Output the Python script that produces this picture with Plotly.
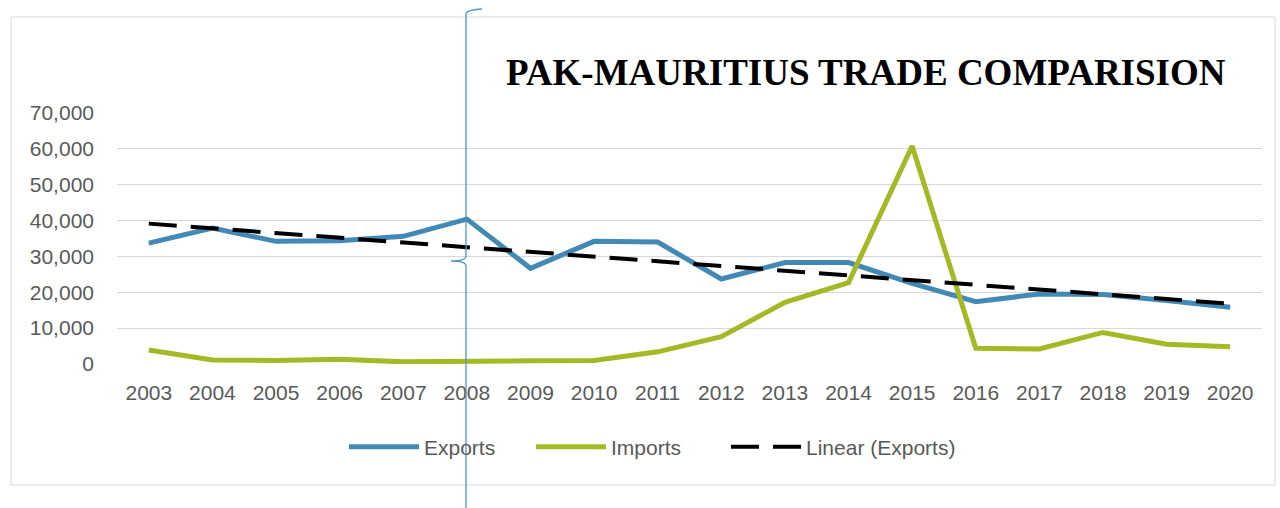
import numpy as np
import plotly.graph_objects as go

years = [str(y) for y in range(2003, 2021)]
exports = [33700, 37900, 34200, 34400, 35600, 40400, 26700, 34200, 34000,
           23700, 28300, 28300, 22500, 17400, 19500, 19400, 17700, 15800]
imports = [3900, 1100, 1000, 1300, 600, 600, 900, 1000, 3400,
           7600, 17200, 22700, 60800, 4400, 4200, 8800, 5500, 4800]
y_ticks = [0, 10000, 20000, 30000, 40000, 50000, 60000, 70000]

# Excel-style linear trendline of exports
xi = np.arange(len(exports))
slope, intercept = np.polyfit(xi, exports, 1)
trend = slope * xi + intercept

W, H = 1280, 508
L, R, T, B = 117, 1262, 113, 364


def px(x):
    return (x - L) / (R - L)


def py(y):
    return (B - y) / (B - T)


fig = go.Figure()
fig.add_trace(go.Scatter(x=years, y=exports, name="Exports", mode="lines",
                         line=dict(color="#4389b5", width=5), legend="legend"))
fig.add_trace(go.Scatter(x=years, y=imports, name="Imports", mode="lines",
                         line=dict(color="#a5b825", width=5), legend="legend2"))
fig.add_trace(go.Scatter(x=years, y=trend, name="Linear (Exports)", mode="lines",
                         line=dict(color="#000000", width=4, dash="28px,14px"),
                         legend="legend3"))

# outer chart border
fig.add_shape(type="rect", xref="paper", yref="paper",
              x0=px(11), x1=px(1275), y0=py(485), y1=py(17),
              line=dict(color="#d9d9d9", width=1), layer="below")

# stray vertical bracket line (document artifact)
path = (f"M {px(482)},{py(9)} Q {px(466)},{py(10)} {px(466)},{py(14)} "
        f"L {px(466)},{py(256)} Q {px(466)},{py(261)} {px(451)},{py(261)} "
        f"Q {px(466)},{py(261)} {px(466)},{py(266)} L {px(466)},{py(508)}")
fig.add_shape(type="path", xref="paper", yref="paper", path=path,
              line=dict(color="#4f97c4", width=1.3))

fig.add_annotation(text="<b>PAK-MAURITIUS TRADE COMPARISION</b>",
                   xref="paper", yref="paper", x=px(866), y=py(73),
                   xanchor="center", yanchor="middle", showarrow=False,
                   font=dict(family="Liberation Serif", size=37, color="#000000"))


def leg(xpix):
    return dict(orientation="h", xref="container", yref="container",
                x=xpix / W, xanchor="left", y=(H - 447) / H, yanchor="middle",
                font=dict(size=21, color="#595959"), itemwidth=70,
                bgcolor="rgba(0,0,0,0)")


fig.update_layout(
    width=W, height=H,
    margin=dict(l=L, r=W - R, t=T, b=H - B),
    paper_bgcolor="white", plot_bgcolor="white",
    font=dict(family="Liberation Sans", size=21, color="#595959"),
    showlegend=True,
    legend=leg(344), legend2=leg(531), legend3=leg(726),
    xaxis=dict(type="category", range=[-0.5, len(years) - 0.5],
               showgrid=False, showline=False, ticks="",
               ticklabelstandoff=14,
               tickfont=dict(size=21, color="#595959"), fixedrange=True),
    yaxis=dict(range=[0, 70000], tickvals=y_ticks, tickformat=",d",
               showgrid=True, gridcolor="#d9d9d9", gridwidth=1,
               zeroline=False, showline=False, ticks="",
               ticklabelstandoff=22,
               tickfont=dict(size=21, color="#595959")),
)

fig.write_html("out.html", config={"displayModeBar": False},
               post_script="document.body.style.margin='0';"
                           "document.body.style.overflow='hidden';")
